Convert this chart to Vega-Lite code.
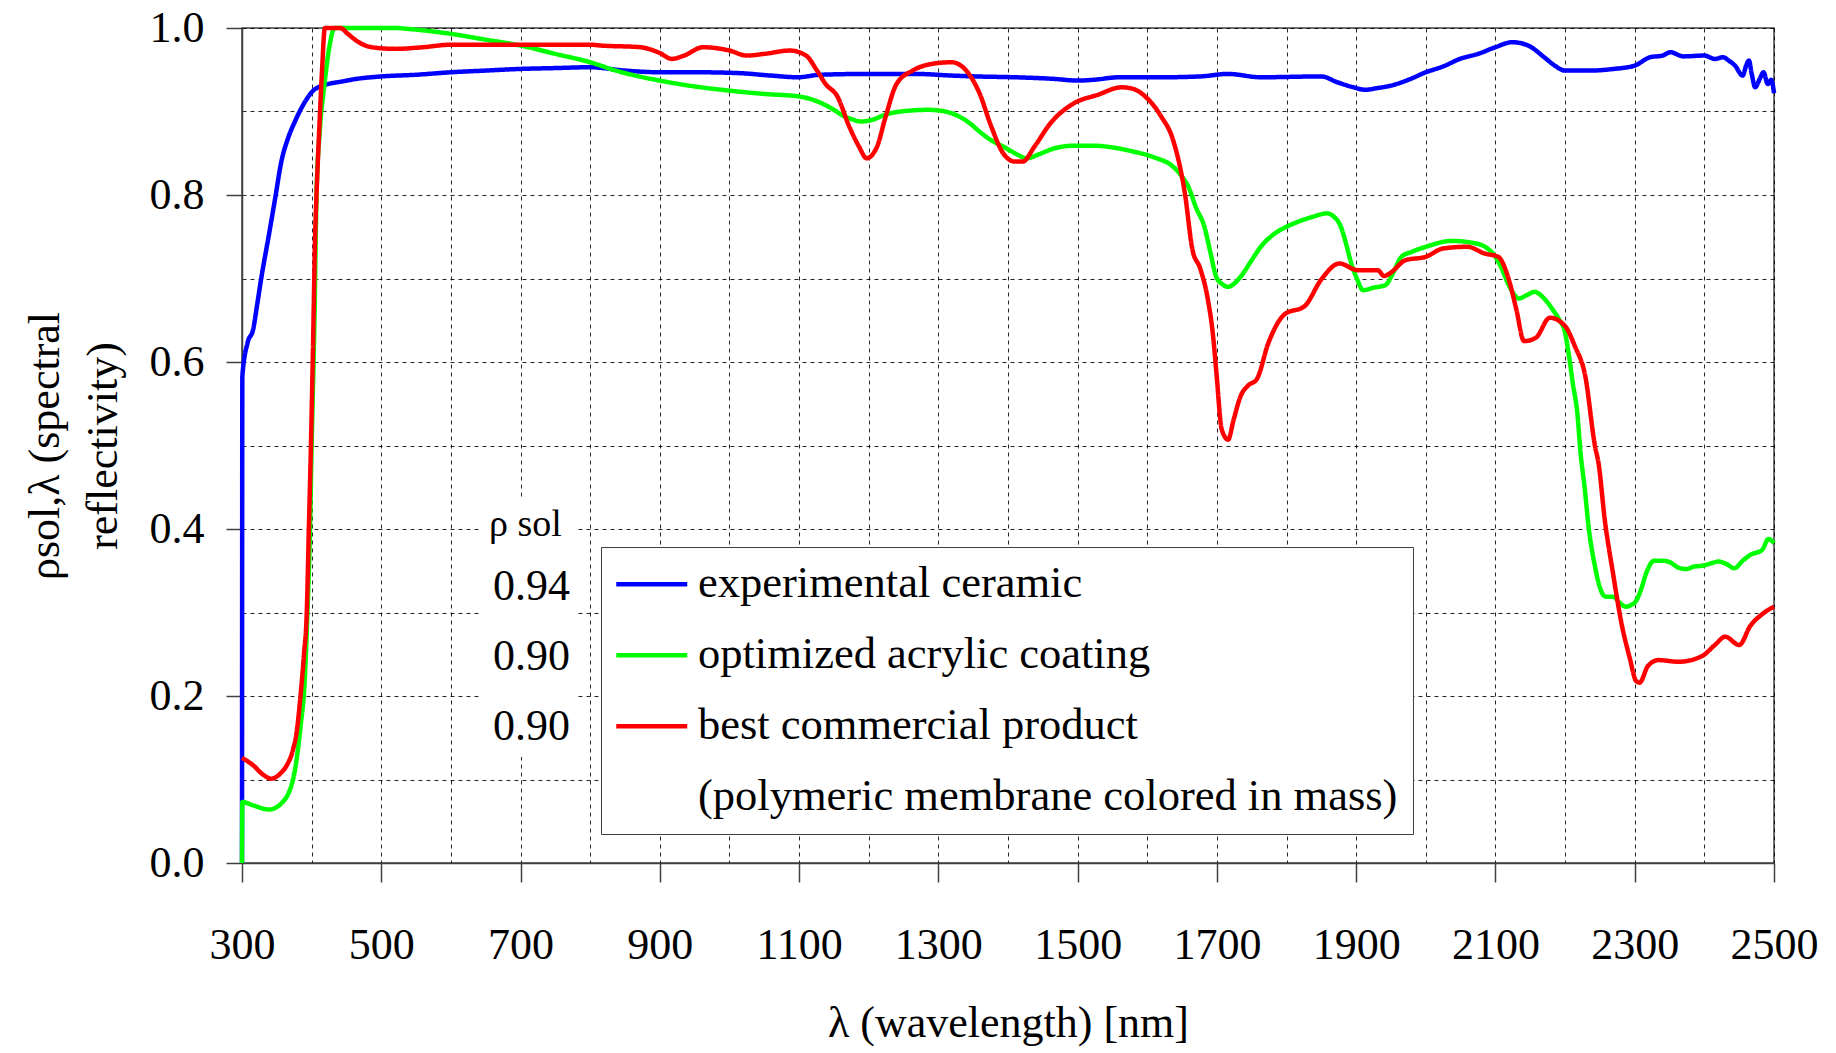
{
  "$schema": "https://vega.github.io/schema/vega-lite/v6.json",
  "width": 1532,
  "height": 835,
  "autosize": {"type": "none"},
  "padding": {"left": 242, "top": 28, "right": 62, "bottom": 190},
  "background": "white",
  "config": {
    "font": "Liberation Serif",
    "view": {"stroke": "#404040", "strokeWidth": 1.5},
    "axis": {
      "domainColor": "#404040", "domainWidth": 1.5,
      "tickColor": "#404040", "tickWidth": 1.5,
      "gridColor": "#000000", "gridDash": [4, 4], "gridWidth": 1, "gridOpacity": 0.85,
      "labelFont": "Liberation Serif", "labelFontSize": 44, "labelColor": "#000000",
      "labelFlush": false, "labelOverlap": false, "labelBound": false,
      "titleFont": "Liberation Serif", "titleFontSize": 44, "titleFontWeight": "normal", "titleColor": "#000000"
    },
    "legend": {
      "labelFont": "Liberation Serif", "labelColor": "#000000", "labelLimit": 1200,
      "titleFont": "Liberation Serif", "titleColor": "#000000", "titleFontWeight": "normal"
    }
  },
  "data": {
    "values": [
      {"series": "experimental ceramic", "wavelength": 300, "reflectivity": 0},
      {"series": "experimental ceramic", "wavelength": 300.5, "reflectivity": 0.583},
      {"series": "experimental ceramic", "wavelength": 308, "reflectivity": 0.623},
      {"series": "experimental ceramic", "wavelength": 316, "reflectivity": 0.639},
      {"series": "experimental ceramic", "wavelength": 322, "reflectivity": 0.67},
      {"series": "experimental ceramic", "wavelength": 328, "reflectivity": 0.702},
      {"series": "experimental ceramic", "wavelength": 339, "reflectivity": 0.754},
      {"series": "experimental ceramic", "wavelength": 348, "reflectivity": 0.798},
      {"series": "experimental ceramic", "wavelength": 356, "reflectivity": 0.838},
      {"series": "experimental ceramic", "wavelength": 367, "reflectivity": 0.87},
      {"series": "experimental ceramic", "wavelength": 376, "reflectivity": 0.888},
      {"series": "experimental ceramic", "wavelength": 384, "reflectivity": 0.902},
      {"series": "experimental ceramic", "wavelength": 393, "reflectivity": 0.915},
      {"series": "experimental ceramic", "wavelength": 401, "reflectivity": 0.924},
      {"series": "experimental ceramic", "wavelength": 412, "reflectivity": 0.93},
      {"series": "experimental ceramic", "wavelength": 424, "reflectivity": 0.933},
      {"series": "experimental ceramic", "wavelength": 444, "reflectivity": 0.936},
      {"series": "experimental ceramic", "wavelength": 464, "reflectivity": 0.939},
      {"series": "experimental ceramic", "wavelength": 500, "reflectivity": 0.942},
      {"series": "experimental ceramic", "wavelength": 550, "reflectivity": 0.944},
      {"series": "experimental ceramic", "wavelength": 600, "reflectivity": 0.947},
      {"series": "experimental ceramic", "wavelength": 650, "reflectivity": 0.949},
      {"series": "experimental ceramic", "wavelength": 700, "reflectivity": 0.951},
      {"series": "experimental ceramic", "wavelength": 750, "reflectivity": 0.952},
      {"series": "experimental ceramic", "wavelength": 800, "reflectivity": 0.953},
      {"series": "experimental ceramic", "wavelength": 850, "reflectivity": 0.949},
      {"series": "experimental ceramic", "wavelength": 900, "reflectivity": 0.947},
      {"series": "experimental ceramic", "wavelength": 950, "reflectivity": 0.947},
      {"series": "experimental ceramic", "wavelength": 1013, "reflectivity": 0.946},
      {"series": "experimental ceramic", "wavelength": 1060, "reflectivity": 0.943},
      {"series": "experimental ceramic", "wavelength": 1098, "reflectivity": 0.941},
      {"series": "experimental ceramic", "wavelength": 1130, "reflectivity": 0.944},
      {"series": "experimental ceramic", "wavelength": 1200, "reflectivity": 0.945},
      {"series": "experimental ceramic", "wavelength": 1268, "reflectivity": 0.945},
      {"series": "experimental ceramic", "wavelength": 1320, "reflectivity": 0.943},
      {"series": "experimental ceramic", "wavelength": 1353, "reflectivity": 0.942},
      {"series": "experimental ceramic", "wavelength": 1410, "reflectivity": 0.941},
      {"series": "experimental ceramic", "wavelength": 1467, "reflectivity": 0.939},
      {"series": "experimental ceramic", "wavelength": 1500, "reflectivity": 0.937},
      {"series": "experimental ceramic", "wavelength": 1523, "reflectivity": 0.938},
      {"series": "experimental ceramic", "wavelength": 1560, "reflectivity": 0.941},
      {"series": "experimental ceramic", "wavelength": 1620, "reflectivity": 0.941},
      {"series": "experimental ceramic", "wavelength": 1676, "reflectivity": 0.942},
      {"series": "experimental ceramic", "wavelength": 1716, "reflectivity": 0.945},
      {"series": "experimental ceramic", "wavelength": 1763, "reflectivity": 0.941},
      {"series": "experimental ceramic", "wavelength": 1850, "reflectivity": 0.942},
      {"series": "experimental ceramic", "wavelength": 1873, "reflectivity": 0.935},
      {"series": "experimental ceramic", "wavelength": 1896, "reflectivity": 0.929},
      {"series": "experimental ceramic", "wavelength": 1913, "reflectivity": 0.926},
      {"series": "experimental ceramic", "wavelength": 1930, "reflectivity": 0.928},
      {"series": "experimental ceramic", "wavelength": 1950, "reflectivity": 0.931},
      {"series": "experimental ceramic", "wavelength": 1975, "reflectivity": 0.938},
      {"series": "experimental ceramic", "wavelength": 2000, "reflectivity": 0.947},
      {"series": "experimental ceramic", "wavelength": 2025, "reflectivity": 0.954},
      {"series": "experimental ceramic", "wavelength": 2049, "reflectivity": 0.963},
      {"series": "experimental ceramic", "wavelength": 2075, "reflectivity": 0.969},
      {"series": "experimental ceramic", "wavelength": 2100, "reflectivity": 0.977},
      {"series": "experimental ceramic", "wavelength": 2124, "reflectivity": 0.983},
      {"series": "experimental ceramic", "wavelength": 2147, "reflectivity": 0.979},
      {"series": "experimental ceramic", "wavelength": 2170, "reflectivity": 0.965},
      {"series": "experimental ceramic", "wavelength": 2185, "reflectivity": 0.955},
      {"series": "experimental ceramic", "wavelength": 2200, "reflectivity": 0.949},
      {"series": "experimental ceramic", "wavelength": 2234, "reflectivity": 0.949},
      {"series": "experimental ceramic", "wavelength": 2270, "reflectivity": 0.951},
      {"series": "experimental ceramic", "wavelength": 2300, "reflectivity": 0.955},
      {"series": "experimental ceramic", "wavelength": 2322, "reflectivity": 0.965},
      {"series": "experimental ceramic", "wavelength": 2340, "reflectivity": 0.967},
      {"series": "experimental ceramic", "wavelength": 2351, "reflectivity": 0.971},
      {"series": "experimental ceramic", "wavelength": 2370, "reflectivity": 0.966},
      {"series": "experimental ceramic", "wavelength": 2400, "reflectivity": 0.967},
      {"series": "experimental ceramic", "wavelength": 2415, "reflectivity": 0.963},
      {"series": "experimental ceramic", "wavelength": 2427, "reflectivity": 0.965},
      {"series": "experimental ceramic", "wavelength": 2435, "reflectivity": 0.961},
      {"series": "experimental ceramic", "wavelength": 2444, "reflectivity": 0.955},
      {"series": "experimental ceramic", "wavelength": 2455, "reflectivity": 0.943},
      {"series": "experimental ceramic", "wavelength": 2460, "reflectivity": 0.955},
      {"series": "experimental ceramic", "wavelength": 2464, "reflectivity": 0.961},
      {"series": "experimental ceramic", "wavelength": 2468, "reflectivity": 0.945},
      {"series": "experimental ceramic", "wavelength": 2473, "reflectivity": 0.929},
      {"series": "experimental ceramic", "wavelength": 2480, "reflectivity": 0.94},
      {"series": "experimental ceramic", "wavelength": 2485, "reflectivity": 0.947},
      {"series": "experimental ceramic", "wavelength": 2491, "reflectivity": 0.933},
      {"series": "experimental ceramic", "wavelength": 2496, "reflectivity": 0.938},
      {"series": "experimental ceramic", "wavelength": 2500, "reflectivity": 0.922},

      {"series": "optimized acrylic coating", "wavelength": 300, "reflectivity": 0},
      {"series": "optimized acrylic coating", "wavelength": 300.5, "reflectivity": 0.073},
      {"series": "optimized acrylic coating", "wavelength": 316, "reflectivity": 0.069},
      {"series": "optimized acrylic coating", "wavelength": 339, "reflectivity": 0.064},
      {"series": "optimized acrylic coating", "wavelength": 356, "reflectivity": 0.071},
      {"series": "optimized acrylic coating", "wavelength": 373, "reflectivity": 0.099},
      {"series": "optimized acrylic coating", "wavelength": 384, "reflectivity": 0.163},
      {"series": "optimized acrylic coating", "wavelength": 390, "reflectivity": 0.218},
      {"series": "optimized acrylic coating", "wavelength": 394, "reflectivity": 0.3},
      {"series": "optimized acrylic coating", "wavelength": 397, "reflectivity": 0.378},
      {"series": "optimized acrylic coating", "wavelength": 400, "reflectivity": 0.5},
      {"series": "optimized acrylic coating", "wavelength": 404, "reflectivity": 0.65},
      {"series": "optimized acrylic coating", "wavelength": 407, "reflectivity": 0.8},
      {"series": "optimized acrylic coating", "wavelength": 412, "reflectivity": 0.88},
      {"series": "optimized acrylic coating", "wavelength": 418, "reflectivity": 0.93},
      {"series": "optimized acrylic coating", "wavelength": 425, "reflectivity": 0.975},
      {"series": "optimized acrylic coating", "wavelength": 433, "reflectivity": 1.0},
      {"series": "optimized acrylic coating", "wavelength": 441, "reflectivity": 1.0},
      {"series": "optimized acrylic coating", "wavelength": 520, "reflectivity": 1.0},
      {"series": "optimized acrylic coating", "wavelength": 537, "reflectivity": 0.999},
      {"series": "optimized acrylic coating", "wavelength": 600, "reflectivity": 0.993},
      {"series": "optimized acrylic coating", "wavelength": 650, "reflectivity": 0.986},
      {"series": "optimized acrylic coating", "wavelength": 700, "reflectivity": 0.979},
      {"series": "optimized acrylic coating", "wavelength": 750, "reflectivity": 0.969},
      {"series": "optimized acrylic coating", "wavelength": 800, "reflectivity": 0.959},
      {"series": "optimized acrylic coating", "wavelength": 837, "reflectivity": 0.949},
      {"series": "optimized acrylic coating", "wavelength": 860, "reflectivity": 0.944},
      {"series": "optimized acrylic coating", "wavelength": 900, "reflectivity": 0.937},
      {"series": "optimized acrylic coating", "wavelength": 950, "reflectivity": 0.93},
      {"series": "optimized acrylic coating", "wavelength": 1000, "reflectivity": 0.925},
      {"series": "optimized acrylic coating", "wavelength": 1050, "reflectivity": 0.921},
      {"series": "optimized acrylic coating", "wavelength": 1100, "reflectivity": 0.918},
      {"series": "optimized acrylic coating", "wavelength": 1132, "reflectivity": 0.91},
      {"series": "optimized acrylic coating", "wavelength": 1150, "reflectivity": 0.902},
      {"series": "optimized acrylic coating", "wavelength": 1161, "reflectivity": 0.896},
      {"series": "optimized acrylic coating", "wavelength": 1175, "reflectivity": 0.891},
      {"series": "optimized acrylic coating", "wavelength": 1189, "reflectivity": 0.888},
      {"series": "optimized acrylic coating", "wavelength": 1205, "reflectivity": 0.89},
      {"series": "optimized acrylic coating", "wavelength": 1223, "reflectivity": 0.896},
      {"series": "optimized acrylic coating", "wavelength": 1246, "reflectivity": 0.9},
      {"series": "optimized acrylic coating", "wavelength": 1285, "reflectivity": 0.902},
      {"series": "optimized acrylic coating", "wavelength": 1310, "reflectivity": 0.9},
      {"series": "optimized acrylic coating", "wavelength": 1325, "reflectivity": 0.896},
      {"series": "optimized acrylic coating", "wavelength": 1345, "reflectivity": 0.886},
      {"series": "optimized acrylic coating", "wavelength": 1359, "reflectivity": 0.876},
      {"series": "optimized acrylic coating", "wavelength": 1375, "reflectivity": 0.866},
      {"series": "optimized acrylic coating", "wavelength": 1393, "reflectivity": 0.858},
      {"series": "optimized acrylic coating", "wavelength": 1410, "reflectivity": 0.85},
      {"series": "optimized acrylic coating", "wavelength": 1427, "reflectivity": 0.844},
      {"series": "optimized acrylic coating", "wavelength": 1445, "reflectivity": 0.849},
      {"series": "optimized acrylic coating", "wavelength": 1467, "reflectivity": 0.856},
      {"series": "optimized acrylic coating", "wavelength": 1495, "reflectivity": 0.859},
      {"series": "optimized acrylic coating", "wavelength": 1524, "reflectivity": 0.859},
      {"series": "optimized acrylic coating", "wavelength": 1550, "reflectivity": 0.857},
      {"series": "optimized acrylic coating", "wavelength": 1580, "reflectivity": 0.852},
      {"series": "optimized acrylic coating", "wavelength": 1610, "reflectivity": 0.845},
      {"series": "optimized acrylic coating", "wavelength": 1637, "reflectivity": 0.834},
      {"series": "optimized acrylic coating", "wavelength": 1650, "reflectivity": 0.822},
      {"series": "optimized acrylic coating", "wavelength": 1659, "reflectivity": 0.81},
      {"series": "optimized acrylic coating", "wavelength": 1670, "reflectivity": 0.785},
      {"series": "optimized acrylic coating", "wavelength": 1682, "reflectivity": 0.762},
      {"series": "optimized acrylic coating", "wavelength": 1691, "reflectivity": 0.73},
      {"series": "optimized acrylic coating", "wavelength": 1699, "reflectivity": 0.702},
      {"series": "optimized acrylic coating", "wavelength": 1708, "reflectivity": 0.693},
      {"series": "optimized acrylic coating", "wavelength": 1716, "reflectivity": 0.69},
      {"series": "optimized acrylic coating", "wavelength": 1725, "reflectivity": 0.694},
      {"series": "optimized acrylic coating", "wavelength": 1734, "reflectivity": 0.702},
      {"series": "optimized acrylic coating", "wavelength": 1750, "reflectivity": 0.722},
      {"series": "optimized acrylic coating", "wavelength": 1763, "reflectivity": 0.738},
      {"series": "optimized acrylic coating", "wavelength": 1780, "reflectivity": 0.752},
      {"series": "optimized acrylic coating", "wavelength": 1800, "reflectivity": 0.762},
      {"series": "optimized acrylic coating", "wavelength": 1820, "reflectivity": 0.769},
      {"series": "optimized acrylic coating", "wavelength": 1838, "reflectivity": 0.774},
      {"series": "optimized acrylic coating", "wavelength": 1858, "reflectivity": 0.778},
      {"series": "optimized acrylic coating", "wavelength": 1868, "reflectivity": 0.774},
      {"series": "optimized acrylic coating", "wavelength": 1878, "reflectivity": 0.762},
      {"series": "optimized acrylic coating", "wavelength": 1886, "reflectivity": 0.74},
      {"series": "optimized acrylic coating", "wavelength": 1893, "reflectivity": 0.718},
      {"series": "optimized acrylic coating", "wavelength": 1901, "reflectivity": 0.7},
      {"series": "optimized acrylic coating", "wavelength": 1910, "reflectivity": 0.686},
      {"series": "optimized acrylic coating", "wavelength": 1925, "reflectivity": 0.689},
      {"series": "optimized acrylic coating", "wavelength": 1942, "reflectivity": 0.692},
      {"series": "optimized acrylic coating", "wavelength": 1952, "reflectivity": 0.705},
      {"series": "optimized acrylic coating", "wavelength": 1965, "reflectivity": 0.726},
      {"series": "optimized acrylic coating", "wavelength": 1980, "reflectivity": 0.732},
      {"series": "optimized acrylic coating", "wavelength": 2000, "reflectivity": 0.738},
      {"series": "optimized acrylic coating", "wavelength": 2037, "reflectivity": 0.745},
      {"series": "optimized acrylic coating", "wavelength": 2072, "reflectivity": 0.742},
      {"series": "optimized acrylic coating", "wavelength": 2090, "reflectivity": 0.735},
      {"series": "optimized acrylic coating", "wavelength": 2100, "reflectivity": 0.726},
      {"series": "optimized acrylic coating", "wavelength": 2110, "reflectivity": 0.71},
      {"series": "optimized acrylic coating", "wavelength": 2118, "reflectivity": 0.694},
      {"series": "optimized acrylic coating", "wavelength": 2126, "reflectivity": 0.682},
      {"series": "optimized acrylic coating", "wavelength": 2133, "reflectivity": 0.676},
      {"series": "optimized acrylic coating", "wavelength": 2145, "reflectivity": 0.68},
      {"series": "optimized acrylic coating", "wavelength": 2156, "reflectivity": 0.684},
      {"series": "optimized acrylic coating", "wavelength": 2170, "reflectivity": 0.676},
      {"series": "optimized acrylic coating", "wavelength": 2182, "reflectivity": 0.663},
      {"series": "optimized acrylic coating", "wavelength": 2192, "reflectivity": 0.65},
      {"series": "optimized acrylic coating", "wavelength": 2200, "reflectivity": 0.635},
      {"series": "optimized acrylic coating", "wavelength": 2206, "reflectivity": 0.605},
      {"series": "optimized acrylic coating", "wavelength": 2211, "reflectivity": 0.575},
      {"series": "optimized acrylic coating", "wavelength": 2218, "reflectivity": 0.535},
      {"series": "optimized acrylic coating", "wavelength": 2222, "reflectivity": 0.493},
      {"series": "optimized acrylic coating", "wavelength": 2228, "reflectivity": 0.45},
      {"series": "optimized acrylic coating", "wavelength": 2234, "reflectivity": 0.401},
      {"series": "optimized acrylic coating", "wavelength": 2243, "reflectivity": 0.355},
      {"series": "optimized acrylic coating", "wavelength": 2250, "reflectivity": 0.33},
      {"series": "optimized acrylic coating", "wavelength": 2258, "reflectivity": 0.319},
      {"series": "optimized acrylic coating", "wavelength": 2269, "reflectivity": 0.319},
      {"series": "optimized acrylic coating", "wavelength": 2278, "reflectivity": 0.312},
      {"series": "optimized acrylic coating", "wavelength": 2287, "reflectivity": 0.307},
      {"series": "optimized acrylic coating", "wavelength": 2295, "reflectivity": 0.309},
      {"series": "optimized acrylic coating", "wavelength": 2302, "reflectivity": 0.314},
      {"series": "optimized acrylic coating", "wavelength": 2310, "reflectivity": 0.33},
      {"series": "optimized acrylic coating", "wavelength": 2316, "reflectivity": 0.346},
      {"series": "optimized acrylic coating", "wavelength": 2328, "reflectivity": 0.362},
      {"series": "optimized acrylic coating", "wavelength": 2340, "reflectivity": 0.362},
      {"series": "optimized acrylic coating", "wavelength": 2351, "reflectivity": 0.36},
      {"series": "optimized acrylic coating", "wavelength": 2362, "reflectivity": 0.354},
      {"series": "optimized acrylic coating", "wavelength": 2374, "reflectivity": 0.352},
      {"series": "optimized acrylic coating", "wavelength": 2385, "reflectivity": 0.355},
      {"series": "optimized acrylic coating", "wavelength": 2397, "reflectivity": 0.356},
      {"series": "optimized acrylic coating", "wavelength": 2410, "reflectivity": 0.359},
      {"series": "optimized acrylic coating", "wavelength": 2420, "reflectivity": 0.361},
      {"series": "optimized acrylic coating", "wavelength": 2432, "reflectivity": 0.358},
      {"series": "optimized acrylic coating", "wavelength": 2443, "reflectivity": 0.353},
      {"series": "optimized acrylic coating", "wavelength": 2455, "reflectivity": 0.362},
      {"series": "optimized acrylic coating", "wavelength": 2466, "reflectivity": 0.369},
      {"series": "optimized acrylic coating", "wavelength": 2483, "reflectivity": 0.375},
      {"series": "optimized acrylic coating", "wavelength": 2492, "reflectivity": 0.388},
      {"series": "optimized acrylic coating", "wavelength": 2500, "reflectivity": 0.383},

      {"series": "best commercial product", "wavelength": 300, "reflectivity": 0.126},
      {"series": "best commercial product", "wavelength": 316, "reflectivity": 0.117},
      {"series": "best commercial product", "wavelength": 330, "reflectivity": 0.106},
      {"series": "best commercial product", "wavelength": 342, "reflectivity": 0.101},
      {"series": "best commercial product", "wavelength": 356, "reflectivity": 0.108},
      {"series": "best commercial product", "wavelength": 365, "reflectivity": 0.118},
      {"series": "best commercial product", "wavelength": 373, "reflectivity": 0.135},
      {"series": "best commercial product", "wavelength": 379, "reflectivity": 0.16},
      {"series": "best commercial product", "wavelength": 384, "reflectivity": 0.2},
      {"series": "best commercial product", "wavelength": 389, "reflectivity": 0.25},
      {"series": "best commercial product", "wavelength": 393, "reflectivity": 0.3},
      {"series": "best commercial product", "wavelength": 396, "reflectivity": 0.4},
      {"series": "best commercial product", "wavelength": 399, "reflectivity": 0.5},
      {"series": "best commercial product", "wavelength": 402, "reflectivity": 0.62},
      {"series": "best commercial product", "wavelength": 405, "reflectivity": 0.75},
      {"series": "best commercial product", "wavelength": 407, "reflectivity": 0.8},
      {"series": "best commercial product", "wavelength": 411, "reflectivity": 0.88},
      {"series": "best commercial product", "wavelength": 415, "reflectivity": 0.95},
      {"series": "best commercial product", "wavelength": 419, "reflectivity": 1.0},
      {"series": "best commercial product", "wavelength": 441, "reflectivity": 1.0},
      {"series": "best commercial product", "wavelength": 452, "reflectivity": 0.993},
      {"series": "best commercial product", "wavelength": 464, "reflectivity": 0.985},
      {"series": "best commercial product", "wavelength": 486, "reflectivity": 0.977},
      {"series": "best commercial product", "wavelength": 520, "reflectivity": 0.975},
      {"series": "best commercial product", "wavelength": 560, "reflectivity": 0.977},
      {"series": "best commercial product", "wavelength": 600, "reflectivity": 0.98},
      {"series": "best commercial product", "wavelength": 700, "reflectivity": 0.98},
      {"series": "best commercial product", "wavelength": 800, "reflectivity": 0.98},
      {"series": "best commercial product", "wavelength": 815, "reflectivity": 0.979},
      {"series": "best commercial product", "wavelength": 872, "reflectivity": 0.977},
      {"series": "best commercial product", "wavelength": 900, "reflectivity": 0.97},
      {"series": "best commercial product", "wavelength": 917, "reflectivity": 0.963},
      {"series": "best commercial product", "wavelength": 935, "reflectivity": 0.967},
      {"series": "best commercial product", "wavelength": 962, "reflectivity": 0.977},
      {"series": "best commercial product", "wavelength": 1000, "reflectivity": 0.973},
      {"series": "best commercial product", "wavelength": 1025, "reflectivity": 0.967},
      {"series": "best commercial product", "wavelength": 1050, "reflectivity": 0.969},
      {"series": "best commercial product", "wavelength": 1087, "reflectivity": 0.973},
      {"series": "best commercial product", "wavelength": 1110, "reflectivity": 0.967},
      {"series": "best commercial product", "wavelength": 1125, "reflectivity": 0.95},
      {"series": "best commercial product", "wavelength": 1138, "reflectivity": 0.933},
      {"series": "best commercial product", "wavelength": 1155, "reflectivity": 0.918},
      {"series": "best commercial product", "wavelength": 1172, "reflectivity": 0.882},
      {"series": "best commercial product", "wavelength": 1186, "reflectivity": 0.858},
      {"series": "best commercial product", "wavelength": 1197, "reflectivity": 0.844},
      {"series": "best commercial product", "wavelength": 1212, "reflectivity": 0.858},
      {"series": "best commercial product", "wavelength": 1223, "reflectivity": 0.89},
      {"series": "best commercial product", "wavelength": 1240, "reflectivity": 0.933},
      {"series": "best commercial product", "wavelength": 1263, "reflectivity": 0.949},
      {"series": "best commercial product", "wavelength": 1291, "reflectivity": 0.957},
      {"series": "best commercial product", "wavelength": 1319, "reflectivity": 0.959},
      {"series": "best commercial product", "wavelength": 1342, "reflectivity": 0.947},
      {"series": "best commercial product", "wavelength": 1359, "reflectivity": 0.922},
      {"series": "best commercial product", "wavelength": 1376, "reflectivity": 0.882},
      {"series": "best commercial product", "wavelength": 1393, "reflectivity": 0.85},
      {"series": "best commercial product", "wavelength": 1410, "reflectivity": 0.84},
      {"series": "best commercial product", "wavelength": 1421, "reflectivity": 0.84},
      {"series": "best commercial product", "wavelength": 1438, "reflectivity": 0.858},
      {"series": "best commercial product", "wavelength": 1461, "reflectivity": 0.886},
      {"series": "best commercial product", "wavelength": 1495, "reflectivity": 0.91},
      {"series": "best commercial product", "wavelength": 1529, "reflectivity": 0.92},
      {"series": "best commercial product", "wavelength": 1563, "reflectivity": 0.929},
      {"series": "best commercial product", "wavelength": 1580, "reflectivity": 0.927},
      {"series": "best commercial product", "wavelength": 1597, "reflectivity": 0.918},
      {"series": "best commercial product", "wavelength": 1620, "reflectivity": 0.894},
      {"series": "best commercial product", "wavelength": 1637, "reflectivity": 0.866},
      {"series": "best commercial product", "wavelength": 1654, "reflectivity": 0.802},
      {"series": "best commercial product", "wavelength": 1665, "reflectivity": 0.734},
      {"series": "best commercial product", "wavelength": 1676, "reflectivity": 0.712},
      {"series": "best commercial product", "wavelength": 1687, "reflectivity": 0.675},
      {"series": "best commercial product", "wavelength": 1694, "reflectivity": 0.635},
      {"series": "best commercial product", "wavelength": 1699, "reflectivity": 0.59},
      {"series": "best commercial product", "wavelength": 1707, "reflectivity": 0.519},
      {"series": "best commercial product", "wavelength": 1716, "reflectivity": 0.507},
      {"series": "best commercial product", "wavelength": 1724, "reflectivity": 0.531},
      {"series": "best commercial product", "wavelength": 1734, "reflectivity": 0.559},
      {"series": "best commercial product", "wavelength": 1745, "reflectivity": 0.572},
      {"series": "best commercial product", "wavelength": 1757, "reflectivity": 0.579},
      {"series": "best commercial product", "wavelength": 1774, "reflectivity": 0.623},
      {"series": "best commercial product", "wavelength": 1797, "reflectivity": 0.657},
      {"series": "best commercial product", "wavelength": 1826, "reflectivity": 0.667},
      {"series": "best commercial product", "wavelength": 1850, "reflectivity": 0.699},
      {"series": "best commercial product", "wavelength": 1876, "reflectivity": 0.718},
      {"series": "best commercial product", "wavelength": 1902, "reflectivity": 0.71},
      {"series": "best commercial product", "wavelength": 1931, "reflectivity": 0.71},
      {"series": "best commercial product", "wavelength": 1940, "reflectivity": 0.703},
      {"series": "best commercial product", "wavelength": 1948, "reflectivity": 0.706},
      {"series": "best commercial product", "wavelength": 1971, "reflectivity": 0.722},
      {"series": "best commercial product", "wavelength": 2000, "reflectivity": 0.726},
      {"series": "best commercial product", "wavelength": 2025, "reflectivity": 0.736},
      {"series": "best commercial product", "wavelength": 2060, "reflectivity": 0.738},
      {"series": "best commercial product", "wavelength": 2084, "reflectivity": 0.73},
      {"series": "best commercial product", "wavelength": 2104, "reflectivity": 0.726},
      {"series": "best commercial product", "wavelength": 2118, "reflectivity": 0.702},
      {"series": "best commercial product", "wavelength": 2130, "reflectivity": 0.663},
      {"series": "best commercial product", "wavelength": 2141, "reflectivity": 0.625},
      {"series": "best commercial product", "wavelength": 2158, "reflectivity": 0.629},
      {"series": "best commercial product", "wavelength": 2178, "reflectivity": 0.653},
      {"series": "best commercial product", "wavelength": 2200, "reflectivity": 0.643},
      {"series": "best commercial product", "wavelength": 2214, "reflectivity": 0.619},
      {"series": "best commercial product", "wavelength": 2229, "reflectivity": 0.583},
      {"series": "best commercial product", "wavelength": 2243, "reflectivity": 0.499},
      {"series": "best commercial product", "wavelength": 2248, "reflectivity": 0.479},
      {"series": "best commercial product", "wavelength": 2257, "reflectivity": 0.411},
      {"series": "best commercial product", "wavelength": 2269, "reflectivity": 0.346},
      {"series": "best commercial product", "wavelength": 2281, "reflectivity": 0.287},
      {"series": "best commercial product", "wavelength": 2293, "reflectivity": 0.245},
      {"series": "best commercial product", "wavelength": 2302, "reflectivity": 0.218},
      {"series": "best commercial product", "wavelength": 2307, "reflectivity": 0.216},
      {"series": "best commercial product", "wavelength": 2319, "reflectivity": 0.236},
      {"series": "best commercial product", "wavelength": 2334, "reflectivity": 0.243},
      {"series": "best commercial product", "wavelength": 2363, "reflectivity": 0.241},
      {"series": "best commercial product", "wavelength": 2397, "reflectivity": 0.248},
      {"series": "best commercial product", "wavelength": 2415, "reflectivity": 0.261},
      {"series": "best commercial product", "wavelength": 2430, "reflectivity": 0.271},
      {"series": "best commercial product", "wavelength": 2450, "reflectivity": 0.261},
      {"series": "best commercial product", "wavelength": 2466, "reflectivity": 0.284},
      {"series": "best commercial product", "wavelength": 2483, "reflectivity": 0.298},
      {"series": "best commercial product", "wavelength": 2500, "reflectivity": 0.307}
    ]
  },
  "mark": {"type": "line", "strokeWidth": 4.5, "interpolate": "monotone", "strokeCap": "butt"},
  "encoding": {
    "x": {
      "field": "wavelength", "type": "quantitative",
      "scale": {"domain": [300, 2500], "nice": false, "zero": false},
      "axis": {
        "values": [300,400,500,600,700,800,900,1000,1100,1200,1300,1400,1500,1600,1700,1800,1900,2000,2100,2200,2300,2400,2500],
        "format": "d",
        "labelExpr": "datum.value % 200 == 100 ? datum.label : ''",
        "tickSize": 19,
        "tickOpacity": {"condition": {"test": "datum.value % 200 == 100", "value": 1}, "value": 0},
        "labelPadding": 41,
        "title": "λ  (wavelength) [nm]",
        "titlePadding": 34
      }
    },
    "y": {
      "field": "reflectivity", "type": "quantitative",
      "scale": {"domain": [0, 1], "nice": false, "zero": false},
      "axis": {
        "values": [0,0.1,0.2,0.3,0.4,0.5,0.6,0.7,0.8,0.9,1],
        "labelExpr": "round(datum.value*10) % 2 == 0 ? format(datum.value, '.1f') : ''",
        "tickSize": 16,
        "tickOpacity": {"condition": {"test": "round(datum.value*10) % 2 == 0", "value": 1}, "value": 0},
        "labelPadding": 22,
        "title": ["ρsol,λ  (spectral", "reflectivity)"],
        "titleLineHeight": 58,
        "titlePadding": 24
      }
    },
    "color": {
      "field": "series", "type": "nominal",
      "scale": {
        "domain": ["experimental ceramic", "optimized acrylic coating", "best commercial product", "(polymeric membrane colored in mass)"],
        "range": ["#0000ff", "#00ff00", "#ff0000", "rgba(0,0,0,0)"]
      },
      "legend": {
        "orient": "none", "legendX": 359, "legendY": 519,
        "title": null,
        "fillColor": "white", "strokeColor": "#404040",
        "padding": 15, "rowPadding": 26,
        "symbolType": "M-2,0H2", "symbolSize": 1260, "symbolStrokeWidth": 4.5,
        "symbolOffset": 13.5, "labelOffset": 24, "labelFontSize": 44.5
      }
    },
    "strokeDash": {
      "field": "series", "type": "nominal",
      "scale": {
        "domain": ["experimental ceramic", "optimized acrylic coating", "best commercial product"],
        "range": [[1, 0], [1, 0], [1, 0]]
      },
      "legend": {
        "orient": "none", "legendX": 239, "legendY": 470,
        "title": "ρ sol", "titleFontSize": 38, "titlePadding": 21,
        "fillColor": "white", "strokeColor": null,
        "padding": 8, "rowPadding": 26,
        "symbolSize": 0, "symbolStrokeWidth": 0, "symbolOpacity": 0,
        "labelOffset": -40, "labelFontSize": 44,
        "labelExpr": "datum.label == 'experimental ceramic' ? '0.94' : '0.90'"
      }
    }
  }
}
